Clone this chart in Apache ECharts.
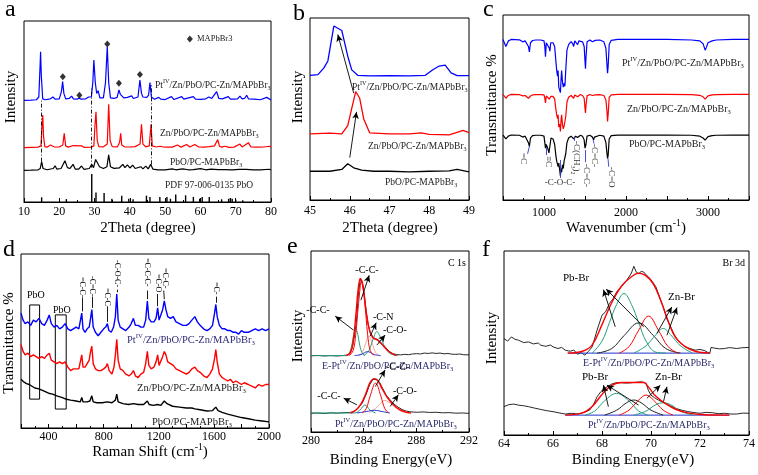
<!DOCTYPE html>
<html><head><meta charset="utf-8">
<script src="https://cdn.jsdelivr.net/npm/echarts@6/dist/echarts.min.js"></script>
<style>html,body{margin:0;padding:0;background:#fff}#c{width:758px;height:475px}</style>
</head><body><div id="c"></div>
<script>
const FONT = "'Liberation Serif', 'Times New Roman', serif";
const BLUE = '#0000ff', RED = '#ff0000', BLACK = '#000000', GREEN = '#1f9e7e', PINK = '#f2a49c', DBLUE = '#2233cc';

// ---------- panel a: XRD (2Theta, relative intensity) ----------
const aBlue = [[10,56.2],[12,56.3],[13.5,56.5],[14.2,58],[14.55,75],[14.7,83],[14.9,70],[15.3,57],[16,56.5],[17.5,57],[18.2,58],[18.8,56.8],[20,57],[20.6,61],[20.95,66.5],[21.3,60],[21.8,57],[22.8,57.2],[23.5,58.5],[24,57],[25,56.8],[25.6,57.4],[26.2,56.8],[27.5,57],[28.3,58],[28.7,59],[29.1,58],[29.5,66],[29.8,78.4],[30.2,66],[30.6,60],[31,61.5],[31.5,57.5],[32.5,57.5],[33.1,66],[33.6,85.8],[34.0,66],[34.5,57.5],[35.5,57.2],[36.4,57.8],[36.9,61.9],[37.3,59.5],[37.8,59],[38.3,57.5],[39.3,57.8],[39.8,57.2],[40.5,58.6],[41,57.2],[42.3,58],[42.85,67.4],[43.3,60],[43.7,58],[44.2,57.5],[44.8,57.8],[45.3,59],[45.7,66],[46.1,58],[47,56.8],[48.2,57.8],[48.8,56.8],[50,56.6],[51.8,58.2],[52.5,56.6],[54.7,58.2],[55.3,56.8],[58,58.2],[58.6,56.8],[60,56.7],[61.5,57],[62.4,58],[63.2,57.2],[64.6,61],[65.2,57.2],[66.2,57],[67.9,58.2],[68.5,56.8],[69.5,56.8],[70.5,57],[71.2,58.5],[71.8,57],[72.5,57.2],[73.1,59],[73.6,57],[75.3,56.8],[77,56.5],[78.8,57.8],[79.3,56.8],[80,56.4]];
const aRed = [[10,30],[12,30.2],[14,30.3],[14.8,31],[15.1,42],[15.3,48],[15.55,36],[15.9,30.6],[16.5,30.3],[17.5,31.5],[18.5,30.5],[20,30.4],[21.0,31.5],[21.4,37.9],[21.8,31],[22.5,30.3],[24,31.2],[24.5,30.2],[26.3,31],[27,30.2],[29,30.3],[29.8,31],[30.1,42],[30.4,49.9],[30.75,34],[31.2,30.6],[32.5,30.5],[33.6,32],[34,54],[34.4,34],[35,30.6],[36.5,30.5],[37.1,33],[37.4,37.9],[37.7,31.5],[38.5,30.5],[40,30.4],[41.5,30.6],[42.9,32],[43.3,42.9],[43.7,32],[44.5,30.5],[45.5,31],[46.0,42.9],[46.35,31],[47.5,30.4],[48.5,30.8],[49,31.5],[49.5,30.4],[50.5,30.3],[52,30.3],[53.5,31.5],[54.5,30.3],[56.1,31.8],[57,30.4],[58.4,31.8],[59.5,30.4],[61,30.3],[62.5,30.6],[64,31],[64.9,34.5],[65.4,30.8],[66,30.3],[67,30.8],[68,30.2],[69.5,30.3],[71.2,32],[71.8,30.4],[73.6,32.8],[74.3,30.4],[76,30.3],[78,30.4],[79.5,30.8],[80,30.2]];
const aBlack = [[10,17.5],[12,17.6],[14,17.8],[14.6,18.5],[15,22.3],[15.4,18.5],[16.5,17.8],[18.3,18.5],[18.8,20],[19.3,18.2],[20.5,18.5],[21.6,22.8],[22.3,19],[23,18.5],[23.9,20.8],[24.5,18.2],[25.5,18.2],[26.3,19.9],[27,18],[28.5,18.5],[29.2,20.8],[29.7,19],[30.3,23.5],[30.8,24.5],[31.4,19.5],[32.5,18.5],[33.5,19.5],[34.0,26],[34.5,19.5],[35.5,18.6],[37,18.8],[38,20.8],[38.6,19],[39.3,20.5],[40,18.8],[40.8,20.4],[41.5,18.5],[43.1,19.5],[43.7,18.3],[44.5,19.8],[45.2,18.3],[45.9,20.8],[46.5,18.2],[48,17.8],[50,17.8],[52,18.3],[53,17.8],[55,18.3],[56.5,17.8],[58,17.9],[60,18.4],[61.5,17.8],[63,18.2],[65,17.9],[67,17.9],[69,17.8],[71,18],[73,18],[75,17.8],[77,17.8],[79.5,18.1],[80,17.7]];
const aPdf = [[15,2.6],[22,1.6],[29.2,15.5],[30.4,5.2],[32.7,5.0],[34.9,1.8],[37.7,3.5],[39.7,1.8],[40.9,1.5],[44.7,3.5],[45.7,2.8],[48.5,2.8],[50.5,2.8],[51.5,1.8],[53,4.1],[55.8,3.7],[58,2.8],[59.8,1.8],[60.5,2.8],[62.5,2.8],[66,1.5],[68,1.8],[68.5,2.2],[69,1.8],[70,1.3],[72,0.9]];
const aDiamonds = [[21.0,69.2],[25.7,59],[33.6,87.3],[36.9,65.6],[42.85,70.5],[57,90]];
const aDashed = [[[15,22.3],[15,56]],[[29.0,19],[29.0,63.7]],[[46.0,20.8],[46.0,65.6]]];

// ---------- panel b ----------
const bBlue = [[45,68.5],[45.2,68.9],[45.35,72.6],[45.45,76.4],[45.6,95.6],[45.8,93.1],[45.95,79],[46.05,71.5],[46.2,68.5],[46.5,68.2],[47,68.3],[47.5,68.2],[47.9,68.5],[48.1,71.7],[48.25,73.6],[48.4,74.1],[48.55,69.8],[48.7,68.3],[49,68.3]];
const bRed = [[45,36.3],[45.5,36.7],[45.8,36.3],[45.95,40.9],[46.05,50.3],[46.15,59.6],[46.25,55.9],[46.35,44.7],[46.5,36.9],[47,36.3],[47.5,36.3],[47.8,36.9],[48,36.1],[48.5,35.8],[48.7,37.2],[48.85,38.2],[49,37]];
const bBlack = [[45,15.8],[45.5,15.8],[45.8,16.8],[45.95,19.9],[46.1,17.7],[46.3,16.4],[46.6,15.8],[47,15.8],[47.5,15.5],[48,15.8],[48.5,16],[48.7,16.8],[49,15.5]];
const bArrows = [[[46.0,23.3],[46.17,48.4]],[[46.1,58.7],[45.7,90.9]]];

// ---------- panel c: FTIR ----------
const cBlue = [[500,86.8],[520,86],[535,83],[550,82.5],[565,86],[600,86.8],[700,86.6],[740,85.5],[755,84.5],[770,86],[790,85.5],[810,83],[822,80],[835,85],[860,86.2],[900,86.5],[960,86.5],[1000,86],[1010,83],[1018,77.5],[1028,85],[1050,85.5],[1065,82],[1072,80.5],[1082,85],[1110,85],[1130,83],[1145,75],[1155,70],[1165,67],[1172,70],[1180,61],[1192,62],[1200,58],[1208,65],[1215,70],[1225,64],[1235,61],[1245,63],[1255,61.5],[1265,70],[1280,81],[1300,84],[1330,85.6],[1350,84.5],[1362,83],[1375,86],[1395,85],[1410,84],[1425,86],[1445,86.3],[1470,85.5],[1490,83],[1500,75],[1506,71],[1512,77],[1525,85.5],[1560,86.5],[1590,85.5],[1605,85],[1625,86.3],[1680,86.5],[1730,85.5],[1755,82],[1768,73],[1775,68.5],[1782,72],[1795,84],[1820,86.3],[1900,86.8],[2200,86.8],[2500,86.8],[2800,86.5],[2900,86],[2940,84.5],[2965,81],[2980,82.5],[3000,85],[3050,86],[3100,86.5],[3300,86.8],[3500,86.8]];
const cRed = [[500,57.1],[520,56.5],[535,55],[550,54.5],[565,56.5],[600,57.1],[700,57],[740,56.3],[755,55.5],[770,56.5],[790,56.3],[810,55],[822,54.5],[835,56.2],[860,56.8],[900,57],[960,57],[1000,56.8],[1010,55],[1018,52.5],[1028,56.2],[1050,56.3],[1065,54.5],[1072,53.5],[1082,56],[1110,56],[1130,54.5],[1145,49],[1155,46],[1165,44],[1172,46],[1180,39.5],[1192,41],[1200,37],[1208,43],[1215,46],[1225,41],[1235,38.5],[1245,40],[1255,40],[1265,45],[1280,53],[1300,55.5],[1330,56.5],[1350,56],[1362,55],[1375,56.8],[1395,56.2],[1410,55.8],[1425,56.8],[1445,57],[1470,56.5],[1490,55],[1500,49.5],[1506,47],[1512,51],[1525,56.3],[1560,57],[1590,56.5],[1605,56],[1625,56.8],[1680,57],[1730,56.5],[1755,54],[1768,48],[1775,42.5],[1782,46],[1795,55.5],[1820,56.8],[1900,57.1],[2200,57.1],[2500,57.1],[2800,57],[2900,56.6],[2940,55.8],[2965,54.5],[2980,55],[3000,56.3],[3050,56.8],[3100,57],[3300,57.1],[3500,57.1]];
const cBlack = [[500,35.1],[520,34.5],[535,33],[550,32.4],[565,34.5],[600,35.1],[700,35],[740,34],[755,33],[770,34.5],[790,34],[810,31],[822,29],[835,33.5],[860,34.8],[900,35],[960,35],[1000,34.5],[1010,31],[1018,28],[1028,30],[1045,28],[1060,25.5],[1075,30],[1085,33.5],[1110,33],[1130,30],[1145,24],[1155,21],[1165,22],[1172,18],[1180,20],[1192,16],[1200,13],[1208,17],[1215,15],[1225,19],[1235,17],[1245,21],[1255,20],[1265,25],[1280,31],[1300,33.5],[1330,34.5],[1350,34],[1362,33],[1375,32.5],[1385,34.5],[1410,33.8],[1425,34.8],[1445,35],[1470,34.5],[1490,32.5],[1500,28],[1506,27],[1512,30],[1525,34.5],[1560,35],[1590,34],[1605,32.5],[1615,34],[1625,34.8],[1680,35],[1730,34.5],[1755,31],[1768,25],[1775,22.5],[1782,24],[1795,33],[1820,34.8],[1900,35.1],[2200,35.1],[2500,35.1],[2800,35],[2900,34.5],[2940,33.5],[2965,32.4],[2980,33],[3000,34.3],[3050,34.8],[3100,35],[3300,35.1],[3500,35.1]];
const cTicks = [[[822,29],[800,25]],[[1033,28.5],[1033,24.3]],[[1195,21.6],[1195,11.9]],[[1366,34],[1366,32]],[[1500,27],[1500,20.5]],[[1600,32.5],[1610,30.5]],[[1780,22.5],[1790,18]]];

// ---------- panel d: Raman ----------
const dBlue = [[200,66],[215,62],[230,60],[250,61],[270,59],[290,62],[310,61],[330,63],[350,60],[370,59],[390,62],[405,65],[420,60],[440,58],[460,59],[480,57],[500,58],[520,60],[540,57],[560,56],[580,57],[600,58],[620,57],[632,58],[641,66],[650,57],[665,55],[680,57],[695,58],[705,63],[714,68],[724,58],[740,55],[760,53],[780,55],[800,57],[815,58],[827,60],[838,56],[855,55],[872,58],[885,64],[895,77],[905,62],[920,58],[940,57],[960,56],[985,58],[1000,60],[1016,63],[1030,59],[1050,59],[1070,58],[1090,58],[1105,62],[1117,73],[1128,63],[1145,61],[1165,61],[1180,63],[1192,69],[1202,62],[1215,63],[1228,68],[1240,73],[1252,68],[1265,64],[1285,63],[1305,64],[1325,61],[1350,60],[1375,59],[1400,59],[1420,60],[1440,62],[1462,64],[1480,61],[1500,59],[1525,57],[1550,56],[1570,57],[1590,59],[1605,66],[1614,71],[1624,64],[1640,59],[1660,57],[1680,57],[1700,56],[1720,56],[1740,55],[1760,55],[1780,54],[1800,56],[1820,55],[1850,55],[1875,56],[1900,57],[1925,56],[1950,57],[1975,56],[2000,57]];
const dRed = [[200,48],[215,44],[230,42],[250,43],[270,41],[290,42],[310,41],[330,40],[350,41],[370,40],[390,42],[405,43],[420,39],[440,38],[460,37],[480,38],[500,37],[520,38],[540,35],[560,33],[580,34],[600,34],[620,34],[632,35],[641,42],[650,35],[665,35],[680,37],[695,39],[705,44],[714,47],[724,37],[740,34],[760,33],[780,33],[800,34],[815,35],[827,37],[840,33],[860,31],[875,35],[885,42],[895,51],[905,39],[920,34],[940,33],[960,31],[985,30],[1000,31],[1016,33],[1030,30],[1050,29],[1070,31],[1090,32],[1105,37],[1117,44],[1128,36],[1145,34],[1165,35],[1180,38],[1192,42],[1202,36],[1215,36],[1228,41],[1240,44],[1252,42],[1265,38],[1285,37],[1305,36],[1325,34],[1350,33],[1375,32],[1400,31],[1420,32],[1440,34],[1462,35],[1480,33],[1500,32],[1525,30],[1550,29],[1570,31],[1590,34],[1605,40],[1614,45],[1624,38],[1640,31],[1660,29],[1680,28],[1700,27],[1720,28],[1740,26],[1760,27],[1780,26],[1800,25],[1820,26],[1850,25],[1875,24],[1900,23],[1925,25],[1950,24],[1975,25],[2000,25]];
const dBlack = [[200,28],[220,26.5],[240,25.5],[260,25],[280,24],[300,23],[330,22.5],[360,21.5],[400,20],[430,19.5],[460,18.5],[500,17.5],[530,16.5],[560,16],[600,15.5],[630,15],[641,17.5],[650,15],[680,15],[700,15.5],[714,18.5],[724,15],[750,14.5],[790,14.5],[827,15],[860,14.5],[885,16],[895,19.5],[905,15],[940,14],[980,13.5],[1016,14],[1050,13.5],[1090,13.5],[1117,15.5],[1130,13.5],[1160,13],[1192,13.5],[1215,13],[1240,15.5],[1260,14],[1300,12.5],[1350,12],[1400,11.5],[1440,11.5],[1462,11],[1500,10.5],[1550,9.8],[1590,10],[1614,12],[1630,10],[1660,9],[1700,8],[1750,7],[1800,6],[1850,5.3],[1900,4.5],[1950,4],[2000,3.5]];
const dBoxes = [[[263,70.7],[335,16.6]],[[449,65],[528,10.9]]];
const dTicks = [[[641,67],[641,75]],[[714,69],[714,75.5]],[[827,61],[827,69.5]],[[895,78],[895,79.5]],[[1117,74],[1117,79]],[[1192,70],[1192,77]],[[1240,74],[1236,79]],[[1614,72],[1614,75.5]]];

// ---------- panel e: C 1s XPS ----------
const eTopRaw = [[280,42.1],[280.5,42.3],[281,42.0],[281.5,42.2],[282,42.0],[282.5,42.3],[282.8,42.6],[283.0,44],[283.15,47],[283.3,53],[283.45,61],[283.6,76],[283.75,85],[283.9,82],[284.05,76],[284.2,66],[284.35,59],[284.5,55],[284.7,52.5],[284.9,51.5],[285.1,51],[285.3,49.5],[285.5,48],[285.75,46],[286,44.2],[286.25,43.2],[286.5,42.8],[286.8,42.6],[287.1,42.9],[287.4,42.7],[287.7,43.1],[288,43.3],[288.3,43.1],[288.6,43.6],[288.9,43.4],[289.2,43.7],[289.5,43.4],[289.8,43.6],[290.1,43.2],[290.4,43.4],[290.7,43],[291,42.9],[291.3,43.1],[291.6,42.7],[292,42.6]];
const eTopEnv = [[282.7,42.2],[283.0,44],[283.2,50],[283.4,64],[283.6,80],[283.75,84.8],[283.95,80],[284.2,66],[284.45,56],[284.7,52],[285.0,51],[285.3,49],[285.7,46],[286.1,43.5],[286.5,42.3]];
const eTopMain = [[282.9,42.2],[283.2,45],[283.4,54],[283.6,70],[283.85,83.9],[284.1,70],[284.3,54],[284.5,45],[284.8,42.2]];
const eTopCC = [[280,42.2],[282.7,42.2],[282.9,43.5],[283.1,48],[283.25,54],[283.4,56.9],[283.55,54],[283.7,48],[283.9,43.5],[284.1,42.2]];
const eTopCN = [[283.6,42.2],[283.9,44],[284.15,49],[284.4,53],[284.65,49],[284.9,44],[285.2,42.2]];
const eTopCO = [[284.0,42.2],[284.4,45],[284.7,51],[285.0,55.4],[285.3,52],[285.6,47],[285.9,44],[286.3,42.5],[286.6,42.2]];
const eTopB = [[283.3,42.2],[283.8,42.8],[284.3,44.4],[284.8,42.8],[285.3,42.2]];
const eBotRaw = [[280,10.3],[280.5,10.5],[281,10.2],[281.5,10.6],[282,10.4],[282.5,10.7],[283,10.8],[283.3,11.5],[283.6,13.5],[283.9,16],[284.2,21],[284.45,26],[284.7,29],[284.85,29.7],[285.0,29.2],[285.2,27.5],[285.45,24],[285.7,20.5],[286,17.8],[286.3,15.5],[286.6,13.8],[286.9,12.5],[287.2,11.6],[287.5,11.2],[287.8,11],[288.1,10.9],[288.5,11.1],[289,10.8],[289.5,10.9],[290,10.6],[290.5,10.7],[291,10.4],[291.5,10.5],[292,10.3]];
const eBotEnv = [[283.0,10.5],[283.4,12],[283.8,15.5],[284.2,22],[284.5,27.5],[284.8,29.5],[285.1,28],[285.4,24],[285.8,19],[286.2,15.5],[286.7,12.5],[287.2,11],[287.6,10.5]];
const eBotMain = [[283.9,10.5],[284.2,13],[284.5,20],[284.9,27],[285.3,20],[285.6,13],[285.9,10.5]];
const eBotCC = [[280,10.5],[283.3,10.5],[283.7,12],[284.1,14.9],[284.5,12],[284.9,10.5]];
const eBotCO = [[284.4,10.5],[284.9,13],[285.3,16],[285.6,17.4],[286.0,16],[286.5,13],[287.0,11],[287.5,10.5]];
const eBotB = [[283.5,10.5],[284.2,11.3],[284.8,12],[285.4,11.3],[286,10.5]];
const eArrows = [[[283.79,72.8],[284.42,86.6]],[[283.23,56.3],[281.84,64]],[[284.5,53],[284.95,60.4]],[[285,48],[285.63,53.6]],[[284.88,25.1],[285.63,34.3]],[[283.49,15],[282.48,18.7]],[[286.01,14.1],[286.64,20.6]]];

// ---------- panel f: Br 3d XPS ----------
const fTopRaw = [[64,52.4],[64.15,51],[64.3,53.3],[64.45,52],[64.6,51.5],[64.8,50.2],[65,50.6],[65.2,49.5],[65.4,50],[65.5,48.8],[65.7,48.2],[65.9,48.9],[66,47.9],[66.2,47],[66.35,47.6],[66.5,46.1],[66.7,45.5],[66.85,46.2],[67,43.9],[67.15,44.8],[67.3,43.4],[67.45,45.5],[67.6,47.9],[67.8,57],[68,65.1],[68.15,67],[68.3,71.4],[68.45,74],[68.6,77.8],[68.75,80],[68.9,82.3],[69.0,84],[69.1,85.9],[69.2,88],[69.3,91.7],[69.4,88.5],[69.5,87.7],[69.6,88.9],[69.7,88.6],[69.8,87],[69.9,85.9],[70.05,83.5],[70.2,80.5],[70.35,75],[70.5,69.6],[70.65,63],[70.8,58.8],[70.95,54.5],[71.1,51.5],[71.25,49.5],[71.4,47.9],[71.6,47],[71.8,46.1],[72,46.5],[72.2,45.8],[72.3,45],[72.4,44.3],[72.45,47.6],[72.6,47.2],[72.8,46.8],[73,47],[73.2,47.5],[73.5,47],[73.7,47.4],[74,47.6]];
const fTopEnv = [[66.6,44.5],[67.2,45.5],[67.6,49],[68.0,60],[68.4,72],[68.8,81],[69.2,86],[69.5,88],[69.8,86.5],[70.1,82],[70.4,73],[70.7,62],[71.0,53],[71.4,48],[71.8,45.5],[72.4,44.5]];
const fTopG1 = [[67.6,44.5],[68.0,51],[68.3,61],[68.6,71],[68.9,76.9],[69.2,71],[69.5,61],[69.8,51],[70.2,45],[70.6,44.5]];
const fTopK = [[67.8,44.5],[68.4,47],[68.9,54],[69.5,60.9],[70.1,54],[70.6,47],[71.2,44.5]];
const fTopR = [[68.7,44.5],[69.1,48],[69.5,57],[69.9,64.6],[70.3,57],[70.7,48],[71.1,44.5]];
const fTopG2 = [[69.3,44.5],[69.8,48.5],[70.2,54.5],[70.5,57.9],[70.8,54.5],[71.2,48.5],[71.7,44.5]];
const fTopBase = [[66.6,44.5],[72.4,44.5]];
const fBotRaw = [[64,15.4],[64.2,16.5],[64.4,16.8],[64.6,16.2],[64.8,15.9],[65,15.4],[65.25,14.6],[65.5,13.9],[65.75,13.2],[66,12.7],[66.25,12],[66.5,11.4],[66.75,11.8],[67,11.4],[67.25,12.2],[67.5,13.6],[67.65,16.5],[67.8,20.8],[67.95,23.5],[68.1,25.3],[68.25,26.5],[68.4,27.7],[68.6,28.5],[68.8,28.4],[69,28.2],[69.2,28.4],[69.4,28.7],[69.6,28.9],[69.7,28.6],[69.8,28],[69.9,24],[70,21.7],[70.15,20.2],[70.3,19],[70.45,18],[70.6,17.2],[70.8,15.8],[71,14.5],[71.25,13.5],[71.5,12.7],[71.75,12.2],[72,11.8],[72.25,12.3],[72.5,12.1],[72.75,11.6],[73,11.8],[73.25,11.4],[73.5,11.4],[73.75,11.9],[74,11.8]];
const fBotEnv = [[66.5,10.8],[67.2,12],[67.6,15.5],[68.0,22],[68.4,27],[68.8,28.5],[69.2,28.5],[69.7,28.5],[69.9,26],[70.2,21],[70.6,17],[71.0,14],[71.5,12],[72.2,11],[73.2,10.8]];
const fBotG1 = [[67.3,10.8],[67.7,13],[68.1,18.5],[68.6,22.6],[69.1,18.5],[69.5,13],[69.9,10.8]];
const fBotK = [[68.1,10.8],[68.6,13.5],[69.0,17.5],[69.3,19],[69.6,17.5],[70.0,13.5],[70.5,10.8]];
const fBotR = [[68.7,10.8],[69.1,13.5],[69.5,19],[69.8,21.7],[70.1,19],[70.5,13.5],[70.9,10.8]];
const fBotG2 = [[69.3,10.8],[69.8,13],[70.2,16.5],[70.5,17.5],[70.8,16.5],[71.2,13],[71.7,10.8]];
const fBotBase = [[66.5,10.8],[73.2,10.8]];
const fArrows = [[[68.54,58.8],[68.06,79]],[[69.7,58.8],[68.17,79.3]],[[70.24,55.2],[70.85,69.6]],[[70.65,54.2],[71.06,69.3]],[[68.26,15.4],[68.06,27.1]],[[69.49,16.3],[68.2,27.1]],[[69.83,19.9],[70.38,27.1]],[[70.51,18.1],[70.65,26.2]]];

// ---------- layout ----------
const grids = [
  {left:24, top:21, width:247, height:181},
  {left:310, top:18, width:159, height:182},
  {left:503, top:15, width:246, height:185},
  {left:21, top:254, width:248, height:174},
  {left:311, top:251, width:158, height:181},
  {left:504, top:251, width:245, height:184}
];

function xa(i, min, max, interval, margin, fmt) {
  return {type:'value', gridIndex:i, min, max, interval,
    axisLine:{show:true, onZero:false, lineStyle:{color:'#000', width:1}},
    axisTick:{show:true, inside:true, length:4, lineStyle:{color:'#000'}},
    minorTick:{show:true, splitNumber:2, length:2, lineStyle:{color:'#000'}},
    splitLine:{show:false}, minorSplitLine:{show:false},
    axisLabel:{color:'#000', fontFamily:FONT, fontSize:12, margin, showMinLabel:true, showMaxLabel:true, formatter: fmt || (v => String(v))}};
}
function ya(i) { return {type:'value', gridIndex:i, min:0, max:100, show:false}; }

const series = [];
function L(g, data, color, w, extra) {
  series.push(Object.assign({type:'line', xAxisIndex:g, yAxisIndex:g, data, symbol:'none', showSymbol:false,
    lineStyle:{color, width:w}, silent:true, z:2}, extra || {}));
}
function lines(list, color, arrow, type) {
  return {silent:true, symbol: arrow ? ['none','arrow'] : ['none','none'], symbolSize: arrow ? [5,7] : 0,
    label:{show:false}, lineStyle:{color, width:0.9, type: type || 'solid'}, emphasis:{disabled:true},
    data: list.map(p => [{coord:p[0]},{coord:p[1]}])};
}

// a
L(0, aBlack, BLACK, 1.2, {markLine: lines(aDashed, '#000', false, [4,2,1,2])});
L(0, aRed, RED, 1.2);
L(0, aBlue, BLUE, 1.2);
series.push({type:'bar', xAxisIndex:0, yAxisIndex:0, data:aPdf, barWidth:1.4, itemStyle:{color:'#000'}, silent:true});
series.push({type:'scatter', xAxisIndex:0, yAxisIndex:0, data:aDiamonds, symbol:'diamond', symbolSize:[6,7], itemStyle:{color:'#000'}, silent:true});
// b
L(1, bBlack, BLACK, 1.3, {markLine: lines(bArrows, '#000', true)});
L(1, bRed, RED, 1.3);
L(1, bBlue, BLUE, 1.3);
// c
L(2, cBlack, BLACK, 1.2, {markLine: lines(cTicks, '#2a3bd6', false)});
L(2, cRed, RED, 1.2);
L(2, cBlue, BLUE, 1.2);
// d
L(3, dBlack, BLACK, 1.4, {markArea:{silent:true, itemStyle:{color:'rgba(0,0,0,0)', borderColor:'#000', borderWidth:1}, data: dBoxes.map(b => [{coord:b[0]},{coord:b[1]}])}});
L(3, dRed, RED, 1.4);
L(3, dBlue, BLUE, 1.4, {markLine: lines(dTicks, '#000', false)});
// e
L(4, eTopRaw, '#111', 0.9, {markLine: lines(eArrows, '#000', true)});
L(4, eBotRaw, '#111', 0.9);
L(4, eTopCC, GREEN, 1, {smooth:0.4});
L(4, eTopCN, PINK, 1, {smooth:0.4});
L(4, eTopCO, GREEN, 1, {smooth:0.4});
L(4, eTopB, DBLUE, 1, {smooth:0.4});
L(4, eTopMain, RED, 1, {smooth:0.4});
L(4, eTopEnv, RED, 1.4, {smooth:0.4});
L(4, eBotCC, GREEN, 1, {smooth:0.4});
L(4, eBotCO, PINK, 1, {smooth:0.4});
L(4, eBotB, DBLUE, 1, {smooth:0.4});
L(4, eBotMain, RED, 1, {smooth:0.4});
L(4, eBotEnv, RED, 1.4, {smooth:0.4});
// f
L(5, fTopRaw, '#111', 0.9, {markLine: lines(fArrows, '#000', true)});
L(5, fBotRaw, '#111', 0.9);
L(5, fTopBase, DBLUE, 1);
L(5, fBotBase, DBLUE, 1);
L(5, fTopG1, GREEN, 1, {smooth:0.4});
L(5, fTopK, '#222', 1, {smooth:0.4});
L(5, fTopR, RED, 1, {smooth:0.4});
L(5, fTopG2, GREEN, 1, {smooth:0.4});
L(5, fTopEnv, RED, 1.4, {smooth:0.4});
L(5, fBotG1, GREEN, 1, {smooth:0.4});
L(5, fBotK, '#222', 1, {smooth:0.4});
L(5, fBotR, RED, 1, {smooth:0.4});
L(5, fBotG2, GREEN, 1, {smooth:0.4});
L(5, fBotEnv, RED, 1.4, {smooth:0.4});

// ---------- texts ----------
const els = [];
function T(x, y, text, o) {
  o = o || {};
  const s = o.size || 12, lh = Math.round(s * 1.35);
  els.push({type:'text', x, y, rotation:o.rot || 0, silent:true, z:100,
    style:{text, fill:o.color || '#000', font: s + 'px ' + FONT, fontFamily:FONT, fontSize:s,
      textAlign:o.align || 'left', textVerticalAlign:o.valign || 'middle', lineHeight:lh,
      rich:{sup:{fontSize:s*0.65, fontFamily:FONT, verticalAlign:'top', lineHeight:lh},
            sub:{fontSize:s*0.65, fontFamily:FONT, verticalAlign:'bottom', lineHeight:lh}}}});
}
const CW = -Math.PI/2, CCW = Math.PI/2;
// panel letters
T(5,10,'a',{size:24}); T(293,14,'b',{size:24}); T(483,10,'c',{size:24});
T(3,250,'d',{size:24}); T(287,247,'e',{size:24}); T(482,250,'f',{size:24});
// axis titles
T(148,228,'2Theta (degree)',{size:15,align:'center'});
T(390,228,'2Theta (degree)',{size:15,align:'center'});
T(626,228,'Wavenumber (cm{sup|-1})',{size:15,align:'center'});
T(150,452,'Raman Shift (cm{sup|-1})',{size:15,align:'center'});
T(391,460,'Binding Energy(eV)',{size:15,align:'center'});
T(633,460,'Binding Energy(eV)',{size:15,align:'center'});
T(11,97,'Intensity',{size:15,align:'center',rot:CCW});
T(298,97,'Intensity',{size:15,align:'center',rot:CCW});
T(492,105,'Transmittance %',{size:15,align:'center',rot:CCW});
T(9,343,'Transmittance %',{size:15,align:'center',rot:CCW});
T(298,336,'Intensity',{size:15,align:'center',rot:CCW});
T(492,338,'Intensity',{size:15,align:'center',rot:CCW});
// a labels
T(155,85,'Pt{sup|IV}/Zn/PbO/PC-Zn/MAPbBr{sub|3}',{size:9.5,color:'#222'});
T(160,133,'Zn/PbO/PC-Zn/MAPbBr{sub|3}',{size:9.5,color:'#222'});
T(170,162,'PbO/PC-MAPbBr{sub|3}',{size:9.5,color:'#222'});
T(165,185,'PDF 97-006-0135 PbO',{size:9.5,color:'#222'});
T(197,39,'MAPbBr3',{size:8.5,color:'#222'});
// b labels
T(352,87,'Pt{sup|IV}/Zn/PbO/PC-Zn/MAPbBr{sub|3}',{size:9.5,color:'#222'});
T(368,146,'Zn/PbO/PC-Zn/MAPbBr{sub|3}',{size:9.5,color:'#222'});
T(385,182,'PbO/PC-MAPbBr{sub|3}',{size:9.5,color:'#222'});
// c labels
T(622,63,'Pt{sup|IV}/Zn/PbO/PC-Zn/MAPbBr{sub|3}',{size:10,color:'#222'});
T(627,109,'Zn/PbO/PC-Zn/MAPbBr{sub|3}',{size:10,color:'#222'});
T(629,144,'PbO/PC-MAPbBr{sub|3}',{size:10,color:'#222'});
T(523,153,'=C',{size:9,rot:CW,color:'#333'});
T(548,156,'\u2261C',{size:9,rot:CW,color:'#333'});
T(560,183,'-C-O-C-',{size:9,align:'center',color:'#333'});
T(576,141,'-C(CH{sub|3}){sub|2}',{size:9,rot:CW,color:'#333'});
T(586,164,'-C=C-',{size:9,rot:CW,color:'#333'});
T(594,144,'-C=C-',{size:9,rot:CW,color:'#333'});
T(611,167,'-C=O',{size:9,rot:CW,color:'#333'});
// d labels
T(127,340,'Pt{sup|IV}/Zn/PbO/PC-Zn/MAPbBr{sub|3}',{size:10.5,color:'#2b2b7a'});
T(137,388,'Zn/PbO/PC-Zn/MAPbBr{sub|3}',{size:10.5,color:'#222'});
T(152,422,'PbO/PC-MAPbBr{sub|3}',{size:10.5,color:'#222'});
T(27,295,'PbO',{size:10}); T(53,310,'PbO',{size:10});
T(82,277,'=C-C-',{size:8,rot:CW}); T(92,276,'-C=C-',{size:8,rot:CW});
T(107,288,'=C-C-',{size:8,rot:CW}); T(117,260,'-C-O-C-',{size:8,rot:CW});
T(147,258,'=C-C-C-',{size:8,rot:CW}); T(158,274,'=C-O',{size:8,rot:CW});
T(165,268,'=C-C-',{size:8,rot:CW}); T(216,282,'=C-',{size:8,rot:CW});
// e labels
T(466,263,'C 1s',{size:10,align:'right'});
T(367,270,'-C-C-',{size:10,align:'center'});
T(318,310,'-C-C-',{size:10,align:'center'});
T(373,317,'-C-N',{size:10});
T(383,330,'-C-O-',{size:10});
T(322,366,'E-Pt{sup|IV}/Zn/PbO/PC-Zn/MAPbBr{sub|3}',{size:10,color:'#2b2b6b'});
T(386,367,'-C-C-',{size:10});
T(329,396,'-C-C-',{size:10,align:'center'});
T(393,391,'-C-O-',{size:10});
T(335,424,'Pt{sup|IV}/Zn/PbO/PC-Zn/MAPbBr{sub|3}',{size:10,color:'#2b2b6b'});
// f labels
T(745,263,'Br 3d',{size:10,align:'right'});
T(563,278,'Pb-Br',{size:11});
T(668,297,'Zn-Br',{size:11});
T(583,363,'E-Pt{sup|IV}/Zn/PbO/PC-Zn/MAPbBr{sub|3}',{size:10,color:'#2b2b6b'});
T(582,377,'Pb-Br',{size:11});
T(655,377,'Zn-Br',{size:11});
T(588,425,'Pt{sup|IV}/Zn/PbO/PC-Zn/MAPbBr{sub|3}',{size:10,color:'#2b2b6b'});

const option = {
  animation:false,
  grid: grids.map(g => Object.assign({show:true, borderColor:'#000', borderWidth:1, backgroundColor:'transparent'}, g)),
  xAxis: [
    xa(0,10,80,10,4),
    xa(1,45,49,1,5),
    xa(2,500,3500,500,7, v => (v % 1000 === 0 ? String(v) : '')),
    xa(3,200,2000,200,3, v => (v % 400 === 0 ? String(v) : '')),
    xa(4,280,292,4,3),
    xa(5,64,74,2,3)
  ],
  yAxis: [ya(0),ya(1),ya(2),ya(3),ya(4),ya(5)],
  series,
  graphic:{elements:els}
};
const chart = echarts.init(document.getElementById('c'), null, {renderer:'canvas'});
chart.setOption(option);
</script></body></html>
